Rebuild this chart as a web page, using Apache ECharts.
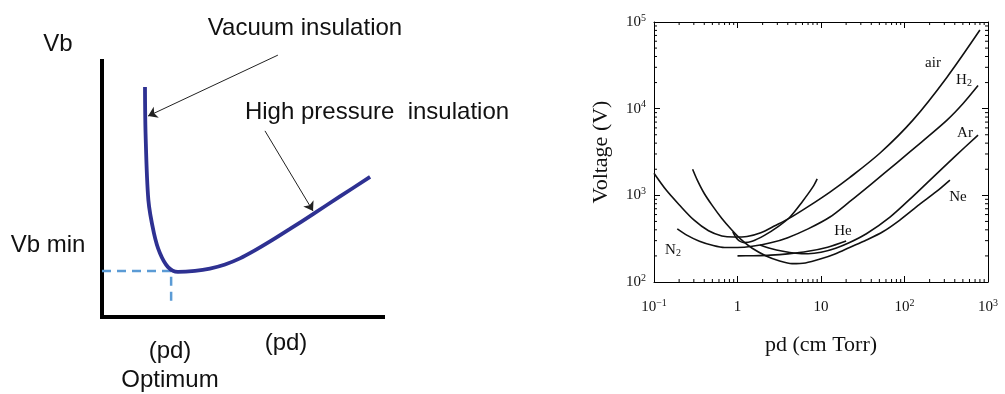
<!DOCTYPE html>
<html>
<head>
<meta charset="utf-8">
<script src="https://cdn.jsdelivr.net/npm/echarts@6/dist/echarts.min.js"></script>
<style>
  html, body { margin: 0; padding: 0; background: #fff; }
  #chart { width: 1005px; height: 394px; }
</style>
</head>
<body>
<div id="chart"></div>
<script>
// ---- left panel: schematic Paschen curve (arbitrary units 0..100) ----
const sketchCurve = [[15.3, 89.8], [15.5, 71.8], [16.5, 45.7], [18.5, 32.7], [20.6, 25], [23.5, 19.5],
  [27, 17.6], [33.1, 18], [38.4, 18.9], [43.8, 20.5], [49.1, 22.9], [54.4, 26], [59.8, 29.5],
  [66.9, 34.4], [75.1, 40.2], [84.7, 47.1], [95.4, 54.7]];
const optimumPd = 24.6;
const vbMin = 18;
const dashBottom = 4.3;
const arrowVacuum = [[62.6, 102.3], [16.4, 78.5]];
const arrowHighP = [[58, 72.7], [75.1, 41.4]];

// ---- right panel: breakdown voltage (V) vs pd (cm Torr) ----
const air = [[0.1, 1800], [0.14, 1150], [0.2, 780], [0.3, 520], [0.45, 390], [0.65, 340], [0.9, 330],
  [1.3, 335], [1.9, 370], [2.8, 445], [4.2, 545], [7, 740], [12.8, 1090], [22, 1600], [51, 3080],
  [126, 7380], [323, 23100], [800, 80700]];
const h2 = [[0.19, 410], [0.25, 345], [0.35, 295], [0.5, 265], [0.7, 250], [1.0, 250], [1.5, 258],
  [2.5, 283], [4, 325], [7, 410], [12.8, 562], [22, 845], [40, 1350], [81, 2370], [160, 4120],
  [323, 7380], [500, 11400], [760, 18500]];
const shortCurve = [[0.88, 378], [0.95, 330], [1.05, 298], [1.2, 285], [1.5, 295], [2.1, 345], [3, 430],
  [4.2, 555], [6, 850], [8, 1250], [9, 1550]];
const ne = [[0.29, 2000], [0.33, 1500], [0.4, 1050], [0.5, 760], [0.65, 540], [0.85, 400], [1.1, 310],
  [1.5, 245], [2.2, 200], [3.2, 175], [4.5, 163], [6.5, 166], [10, 185], [15, 212], [22, 250],
  [35, 305], [55, 380], [88, 519], [150, 780], [240, 1100], [350, 1500]];
const ar = [[1.86, 267], [2.5, 243], [3.5, 226], [5, 215], [7, 212], [10, 220], [15, 245], [22, 285],
  [35, 360], [67, 560], [130, 1000], [202, 1500], [400, 2800], [760, 4950]];
const he = [[1, 200], [1.5, 201], [2.5, 204], [4, 211], [7, 226], [12, 252], [20, 297]];

const xDecades = [0.1, 1, 10, 100];
const yDecades = [100, 1000, 10000];
const mantissas = [2, 3, 4, 5, 6, 7, 8, 9];

let minorX = [];
xDecades.forEach(d => mantissas.forEach(m => minorX.push([+(d * m).toPrecision(3), 1000])));
let minorY = [];
yDecades.forEach(d => mantissas.forEach(m => minorY.push([1, d * m])));

const serif = '"Liberation Serif", "DejaVu Serif", serif';
const sans = '"Liberation Sans", Arial, sans-serif';

function powLabel(v) {
  const e = Math.round(Math.log10(v));
  if (e === 0) return '1';
  if (e === 1) return '10';
  return '10{sup|' + (e < 0 ? '\u2212' + (-e) : e) + '}';
}
const supRich = {
  sup: { fontSize: 10, fontFamily: serif, color: '#111', verticalAlign: 'top', lineHeight: 12 }
};

function curve(data) {
  return {
    type: 'line', xAxisIndex: 1, yAxisIndex: 1, data: data, smooth: 0.3,
    symbol: 'none', lineStyle: { color: '#111', width: 1.6 }, silent: true, z: 3
  };
}

function stext(t, x, y, size, font) {
  return {
    type: 'text', x: x, y: y,
    style: {
      text: t, fontSize: size, fontFamily: font, fill: '#111',
      align: 'center', verticalAlign: 'middle', textAlign: 'center', textVerticalAlign: 'middle'
    }
  };
}

function subText(base, x, y) {
  return { type: 'text', x: x, y: y, style: { text: base + '{s|2}', fontSize: 15, fontFamily: serif, fill: '#111',
    align: 'center', verticalAlign: 'middle', textAlign: 'center', textVerticalAlign: 'middle',
    rich: { s: { fontSize: 10, fontFamily: serif, fill: '#111', verticalAlign: 'bottom', padding: [6, 0, 0, 0] } } } };
}

let chart = echarts.init(document.getElementById('chart'));
let option = {
  backgroundColor: '#fff',
  animation: false,
  grid: [
    { left: 102, top: 61, width: 281, height: 256 },
    { left: 654, top: 22, width: 334, height: 260 }
  ],
  xAxis: [
    { gridIndex: 0, type: 'value', min: 0, max: 100,
      axisLine: { lineStyle: { color: '#000', width: 4, cap: 'square' } },
      axisTick: { show: false }, axisLabel: { show: false }, splitLine: { show: false } },
    { gridIndex: 1, type: 'log', logBase: 10, min: 0.1, max: 1000, position: 'bottom',
      name: 'pd (cm Torr)', nameLocation: 'middle', nameGap: 52,
      nameTextStyle: { fontFamily: serif, fontSize: 22, color: '#111' },
      axisLine: { onZero: false, lineStyle: { color: '#000', width: 1 } },
      axisTick: { inside: true, length: 6, lineStyle: { color: '#000' } },
      axisLabel: { formatter: powLabel, margin: 16, fontFamily: serif, fontSize: 15, color: '#111', rich: supRich,
        lineHeight: 18 },
      splitLine: { show: false } },
    { gridIndex: 1, type: 'log', logBase: 10, min: 0.1, max: 1000, position: 'top',
      axisLine: { onZero: false, lineStyle: { color: '#000', width: 1 } },
      axisTick: { inside: true, length: 6, lineStyle: { color: '#000' } },
      axisLabel: { show: false }, splitLine: { show: false } }
  ],
  yAxis: [
    { gridIndex: 0, type: 'value', min: 0, max: 100,
      axisLine: { lineStyle: { color: '#000', width: 4, cap: 'square' } },
      axisTick: { show: false }, axisLabel: { show: false }, splitLine: { show: false } },
    { gridIndex: 1, type: 'log', logBase: 10, min: 100, max: 100000, position: 'left',
      name: 'Voltage (V)', nameLocation: 'middle', nameGap: 42, nameRotate: 90,
      nameTextStyle: { fontFamily: serif, fontSize: 22, color: '#111' },
      axisLine: { onZero: false, lineStyle: { color: '#000', width: 1 } },
      axisTick: { inside: true, length: 6, lineStyle: { color: '#000' } },
      axisLabel: { formatter: powLabel, margin: 8, fontFamily: serif, fontSize: 15, color: '#111', rich: supRich,
        lineHeight: 18 },
      splitLine: { show: false } },
    { gridIndex: 1, type: 'log', logBase: 10, min: 100, max: 100000, position: 'right',
      axisLine: { onZero: false, lineStyle: { color: '#000', width: 1 } },
      axisTick: { inside: true, length: 6, lineStyle: { color: '#000' } },
      axisLabel: { show: false }, splitLine: { show: false } }
  ],
  series: [
    { type: 'line', xAxisIndex: 0, yAxisIndex: 0, symbol: 'none', silent: true, z: 2,
      data: [[0, vbMin], [optimumPd, vbMin], [optimumPd, dashBottom]],
      lineStyle: { color: '#5b9bd5', width: 2.5, type: [9, 6] } },
    { type: 'line', xAxisIndex: 0, yAxisIndex: 0, data: sketchCurve, smooth: 0.3, symbol: 'none',
      silent: true, z: 3, lineStyle: { color: '#2e3192', width: 3.8 } },
    { type: 'lines', coordinateSystem: 'cartesian2d', xAxisIndex: 0, yAxisIndex: 0, silent: true, z: 4,
      clip: false, symbol: ['none', 'arrow'], symbolSize: 9,
      lineStyle: { color: '#222', width: 1, opacity: 1 },
      data: [{ coords: arrowVacuum }, { coords: arrowHighP }] },
    curve(air), curve(h2), curve(shortCurve), curve(ne), curve(ar), curve(he),
    { type: 'custom', xAxisIndex: 1, yAxisIndex: 1, data: minorX, silent: true, clip: false, z: 5,
      renderItem: function (params, api) {
        const v = api.value(0);
        const b = api.coord([v, 100]);
        const t = api.coord([v, 100000]);
        const st = { stroke: '#000', lineWidth: 1 };
        return { type: 'group', children: [
          { type: 'line', shape: { x1: b[0], y1: b[1], x2: b[0], y2: b[1] - 3 }, style: st },
          { type: 'line', shape: { x1: t[0], y1: t[1], x2: t[0], y2: t[1] + 3 }, style: st }
        ] };
      } },
    { type: 'custom', xAxisIndex: 1, yAxisIndex: 1, data: minorY, silent: true, clip: false, z: 5,
      renderItem: function (params, api) {
        const v = api.value(1);
        const l = api.coord([0.1, v]);
        const r = api.coord([1000, v]);
        const st = { stroke: '#000', lineWidth: 1 };
        return { type: 'group', children: [
          { type: 'line', shape: { x1: l[0], y1: l[1], x2: l[0] + 3, y2: l[1] }, style: st },
          { type: 'line', shape: { x1: r[0], y1: r[1], x2: r[0] - 3, y2: r[1] }, style: st }
        ] };
      } }
  ],
  graphic: [
    stext('Vb', 58, 44, 24, sans),
    stext('Vacuum insulation', 305, 28, 24, sans),
    stext('High pressure  insulation', 377, 112, 24, sans),
    stext('Vb min', 48, 245, 24, sans),
    stext('(pd)', 170, 351, 24, sans),
    stext('(pd)', 286, 343, 24, sans),
    stext('Optimum', 170, 380, 24, sans),
    stext('air', 933, 63, 15, serif),
    stext('Ar', 965, 133, 15, serif),
    stext('Ne', 958, 197, 15, serif),
    stext('He', 843, 231, 15, serif),
    subText('H', 964, 80),
    subText('N', 673, 250)
  ]
};
chart.setOption(option);
</script>
</body>
</html>
